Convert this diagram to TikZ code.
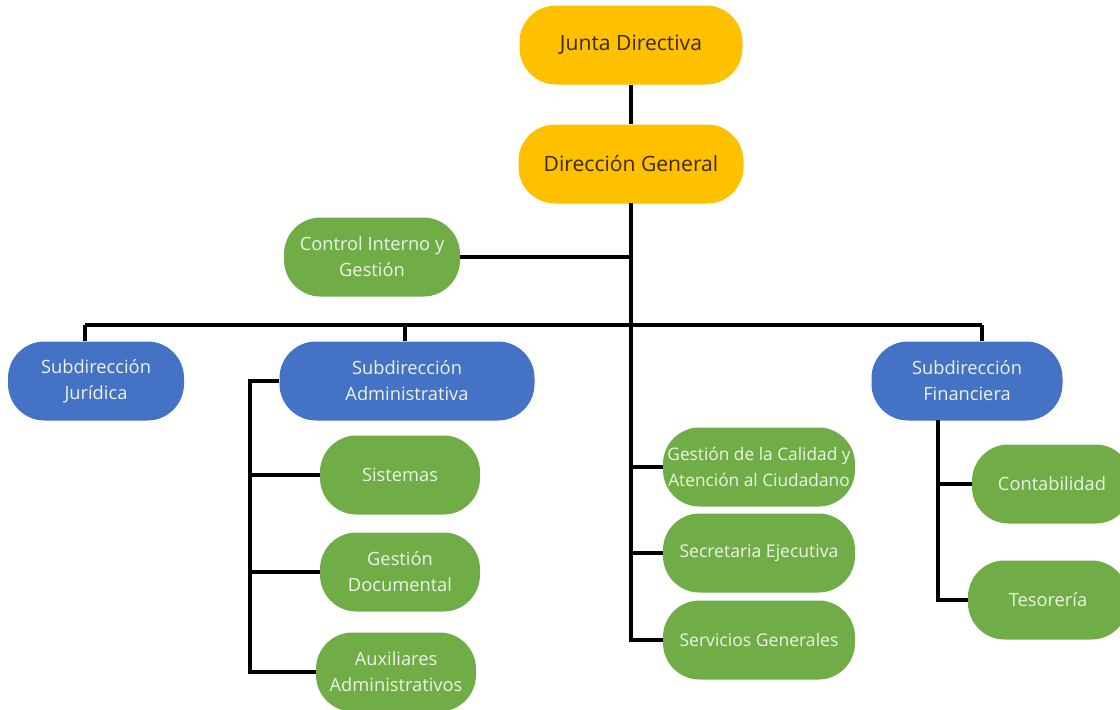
\documentclass[tikz,border=0pt]{standalone}
\usepackage{fontspec}
\setmainfont{Open Sans}
\usetikzlibrary{calc}
\definecolor{boxgold}{HTML}{FFC000}
\definecolor{boxblue}{HTML}{4472C4}
\definecolor{boxgreen}{HTML}{70AD47}
\definecolor{goldtext}{HTML}{3B2A05}
\definecolor{lighttext}{HTML}{EEF3E6}

\begin{document}
\begin{tikzpicture}[x=0.025cm, y=-0.025cm,
    unit/.style={rounded corners=26, minimum height=79*0.025cm, inner xsep=0pt,
      inner ysep=2pt, align=center, font=\fontsize{13}{18.5}\selectfont},
    topunit/.style={unit, fill=boxgold, text=goldtext, font=\fontsize{15}{18.5}\selectfont},
    subunit/.style={unit, fill=boxblue, text=lighttext},
    office/.style={unit, fill=boxgreen, text=lighttext},
    link/.style={line width=2.6pt, black}]
  % canvas in pixels of the reference, y growing downwards
  \useasboundingbox (0,0) rectangle (1120,710);

  % ---------- board and direction ----------
  \node[topunit, minimum width=223*0.025cm] (junta) at (631,45) {Junta Directiva};
  \node[topunit, minimum width=225*0.025cm] (direccion) at (631,164) {Dirección General};
  \node[office, minimum width=176*0.025cm] (control) at (372,257) {Control Interno y\\Gestión};

  % ---------- sub-directions ----------
  \node[subunit, minimum width=176*0.025cm] (juridica) at (96,381) {Subdirección\\Jurídica};
  \node[subunit, minimum width=255*0.025cm] (admin) at (407,381) {Subdirección\\Administrativa};
  \node[subunit, minimum width=191*0.025cm] (financiera) at (967,381) {Subdirección\\Financiera};

  % ---------- offices under Administrativa ----------
  \node[office, minimum width=160*0.025cm] (sistemas) at (400,475) {Sistemas};
  \node[office, minimum width=160*0.025cm] (documental) at (400,572) {Gestión\\Documental};
  \node[office, minimum width=160*0.025cm] (auxiliares) at (396,672) {Auxiliares\\Administrativos};

  % ---------- offices under the direction ----------
  \node[office, minimum width=192*0.025cm, font=\fontsize{12.3}{18.5}\selectfont] (calidad) at (759,467) {Gestión de la Calidad y\\Atención al Ciudadano};
  \node[office, minimum width=192*0.025cm, font=\fontsize{12.5}{18.5}\selectfont] (secretaria) at (759,553) {Secretaria Ejecutiva};
  \node[office, minimum width=192*0.025cm, font=\fontsize{12.5}{18.5}\selectfont] (servicios) at (759,640) {Servicios Generales};

  % ---------- offices under Financiera ----------
  \node[office, minimum width=160*0.025cm] (contabilidad) at (1052,484) {Contabilidad};
  \node[office, minimum width=160*0.025cm] (tesoreria) at (1048,600) {Tesorería};

  % ---------- connectors ----------
  \coordinate (trunk) at (631,203);
  \coordinate (barL) at (85,325);
  \coordinate (barA) at (405,325);
  \coordinate (barR) at (982,325);
  \coordinate (adminrail) at (250,381);
  \coordinate (finrail) at (938,420);

  \draw[link] (junta) -- (direccion);
  \draw[link] (trunk) |- (servicios.west);
  \draw[link] (control.east) -- (trunk |- control.east);
  \draw[link] (trunk |- calidad.west) -- (calidad.west);
  \draw[link] (trunk |- secretaria.west) -- (secretaria.west);

  \draw[link] (barL) -- (barR);
  \draw[link] (barL) -- (barL |- juridica.north);
  \draw[link] (barA) -- (barA |- admin.north);
  \draw[link] (barR) -- (barR |- financiera.north);

  \draw[link] (admin.west) -- (adminrail) |- (auxiliares.west);
  \draw[link] (adminrail |- sistemas.west) -- (sistemas.west);
  \draw[link] (adminrail |- documental.west) -- (documental.west);

  \draw[link] (finrail) |- (tesoreria.west);
  \draw[link] (finrail |- contabilidad.west) -- (contabilidad.west);
\end{tikzpicture}
\end{document}
